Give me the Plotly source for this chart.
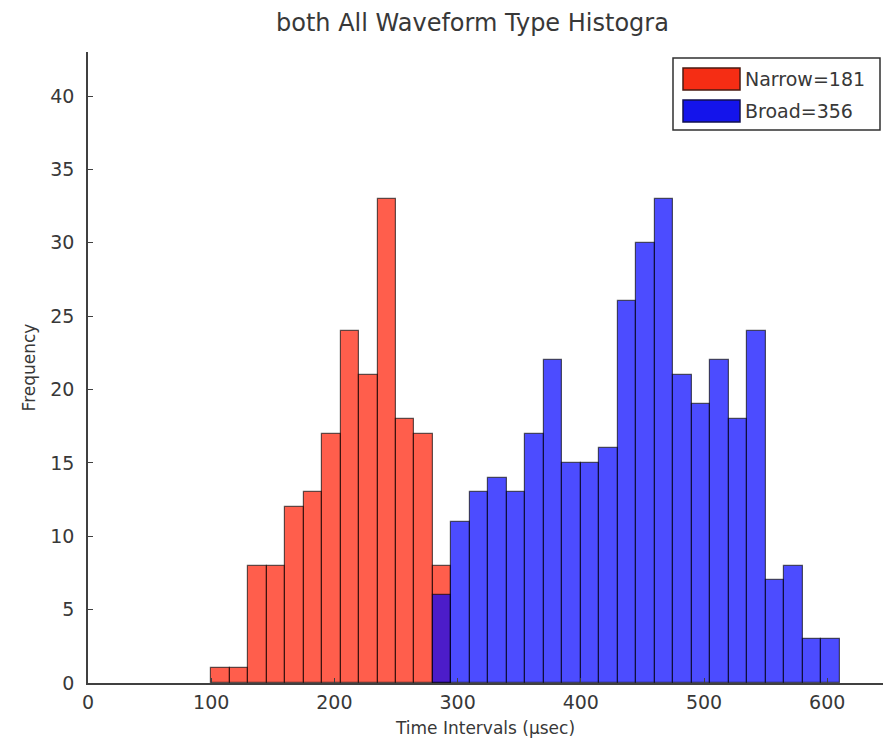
import plotly.graph_objects as go

# Histogram bins (left edges, µs) and counts for each waveform type
bin_width = 15
narrow_bin_left = [100, 115, 130, 145, 160, 175, 190, 205, 220, 235, 250, 265, 280]
narrow_counts = [1, 1, 8, 8, 12, 13, 17, 24, 21, 33, 18, 17, 8]

broad_bin_left = [280, 295, 310, 325, 340, 355, 370, 385, 400, 415, 430,
                  445, 460, 475, 490, 505, 520, 535, 550, 565, 580, 595]
broad_counts = [6, 11, 13, 14, 13, 17, 22, 15, 15, 16, 26,
                30, 33, 21, 19, 22, 18, 24, 7, 8, 3, 3]

x_ticks = [0, 100, 200, 300, 400, 500, 600]
y_ticks = [0, 5, 10, 15, 20, 25, 30, 35, 40]

title_text = "both All Waveform Type Histogra"
x_title = "Time Intervals (µsec)"
y_title = "Frequency"

FONT = "DejaVu Sans, Verdana, sans-serif"
TEXT = "#383838"
AXIS = "#404040"

RED_FILL = "rgba(255,25,0,0.70)"
BLUE_FILL = "rgba(0,0,255,0.70)"
EDGE = "rgba(0,0,0,0.62)"

W, H = 883, 749
L, R, T, B = 88, 0, 52, 66
plot_w = W - L - R
plot_h = H - T - B


def px_x(p):
    return (p - L) / plot_w


def px_y(p):
    return (H - B - p) / plot_h


fig = go.Figure()

fig.add_trace(go.Bar(
    x=[b + bin_width / 2 for b in narrow_bin_left],
    y=narrow_counts,
    width=bin_width,
    marker=dict(color=RED_FILL, line=dict(color=EDGE, width=1.2)),
    name=f"Narrow={sum(narrow_counts)}",
    showlegend=False,
))
fig.add_trace(go.Bar(
    x=[b + bin_width / 2 for b in broad_bin_left],
    y=broad_counts,
    width=bin_width,
    marker=dict(color=BLUE_FILL, line=dict(color=EDGE, width=1.2)),
    name=f"Broad={sum(broad_counts)}",
    showlegend=False,
))

# Legend drawn as a boxed key with wide swatches
shapes = [
    dict(type="rect", xref="paper", yref="paper",
         x0=px_x(673), x1=px_x(880), y0=px_y(130), y1=px_y(58),
         fillcolor="white", line=dict(color="#303030", width=1.5), layer="above"),
    dict(type="rect", xref="paper", yref="paper",
         x0=px_x(683), x1=px_x(740), y0=px_y(90), y1=px_y(68),
         fillcolor="rgb(245,45,20)", line=dict(color="#4a1a10", width=1.5), layer="above"),
    dict(type="rect", xref="paper", yref="paper",
         x0=px_x(683), x1=px_x(740), y0=px_y(122), y1=px_y(100),
         fillcolor="rgb(20,20,235)", line=dict(color="#101050", width=1.5), layer="above"),
]

annotations = [
    dict(xref="paper", yref="paper", x=px_x(743), y=px_y(79),
         text=f"Narrow={sum(narrow_counts)}", showarrow=False,
         xanchor="left", yanchor="middle",
         font=dict(family=FONT, size=19, color=TEXT)),
    dict(xref="paper", yref="paper", x=px_x(743), y=px_y(111),
         text=f"Broad={sum(broad_counts)}", showarrow=False,
         xanchor="left", yanchor="middle",
         font=dict(family=FONT, size=19, color=TEXT)),
]

fig.update_layout(
    width=W, height=H,
    margin=dict(l=L, r=R, t=T, b=B),
    paper_bgcolor="white",
    plot_bgcolor="white",
    barmode="overlay",
    bargap=0,
    title=dict(text=title_text, x=276 / W, xanchor="left", xref="container",
               y=1 - 23 / H, yanchor="middle", yref="container",
               font=dict(family=FONT, size=24, color=TEXT)),
    shapes=shapes,
    annotations=annotations,
    font=dict(family=FONT, color=TEXT),
)

fig.update_xaxes(
    range=[0, (W - L - R) / 1.232],
    tickmode="array", tickvals=x_ticks,
    ticks="inside", ticklen=5, tickwidth=1, tickcolor=AXIS,
    showline=True, linecolor=AXIS, linewidth=1.5,
    showgrid=False, zeroline=False,
    tickfont=dict(family=FONT, size=19, color=TEXT),
    ticklabelstandoff=1,
    title=dict(text=x_title, font=dict(family=FONT, size=17, color=TEXT), standoff=11),
    automargin=False,
)
fig.update_yaxes(
    range=[0, 43],
    tickmode="array", tickvals=y_ticks,
    ticks="inside", ticklen=5, tickwidth=1, tickcolor=AXIS,
    showline=True, linecolor=AXIS, linewidth=1.5,
    showgrid=False, zeroline=False,
    tickfont=dict(family=FONT, size=19, color=TEXT),
    ticklabelstandoff=8,
    title=dict(text=y_title, font=dict(family=FONT, size=17, color=TEXT), standoff=10),
    automargin=False,
)

fig.write_html("out.html")
